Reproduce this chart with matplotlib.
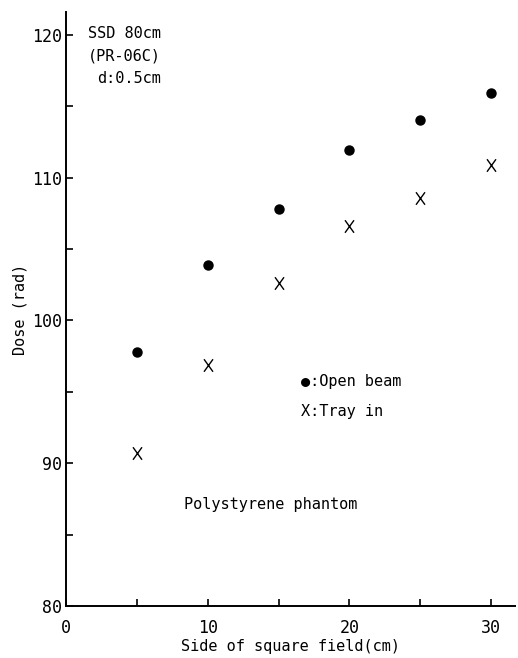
import matplotlib.pyplot as plt
from matplotlib.path import Path

# field size (cm) and measured dose (rad)
field = [5, 10, 15, 20, 25, 30]
open_beam = [97.8, 103.9, 107.8, 111.9, 114.0, 115.9]
tray_in = [90.7, 96.9, 102.6, 106.6, 108.6, 110.9]

x_ticks = [0, 10, 20, 30]
y_ticks = [80, 90, 100, 110, 120]

plt.rcParams['font.family'] = ['DejaVu Sans Mono', 'DejaVu Sans']

fig = plt.figure(figsize=(5.18, 6.58), dpi=100)
ax = fig.add_axes([0.127, 0.079, 0.868, 0.903])

# tall thin X like the typed glyph
xmark = Path([(-0.36, -0.5), (0.36, 0.5), (-0.36, 0.5), (0.36, -0.5)],
             [Path.MOVETO, Path.LINETO, Path.MOVETO, Path.LINETO])

ax.plot(field, open_beam, 'o', color='black', ms=6.5, ls='none')
ax.plot(field, tray_in, marker=xmark, color='black', ms=9, mew=1.0, ls='none')

ax.set_xlim(0, 31.7)
ax.set_ylim(80, 121.6)
ax.set_xticks(x_ticks)
ax.set_yticks(y_ticks)
ax.set_xticks([5, 15, 25], minor=True)
ax.set_yticks([85, 95, 105, 115], minor=True)
ax.tick_params(which='both', direction='in', length=5, width=1.2, labelsize=12)
ax.tick_params(axis='x', pad=9)
ax.tick_params(axis='y', pad=3)

for s in ['top', 'right']:
    ax.spines[s].set_visible(False)
for s in ['left', 'bottom']:
    ax.spines[s].set_linewidth(1.4)

ax.set_xlabel('Side of square field(cm)', fontsize=11, labelpad=2)
ax.set_ylabel('Dose (rad)', fontsize=11, labelpad=3)

ax.text(1.55, 120.1, 'SSD 80cm', fontsize=11, va='center')
ax.text(1.55, 118.5, '(PR-06C)', fontsize=11, va='center')
ax.text(2.2, 116.9, 'd:0.5cm', fontsize=11, va='center')

ax.text(16.6, 95.7, '●:Open beam', fontsize=11, va='center')
ax.text(16.6, 93.6, 'X:Tray in', fontsize=11, va='center')
ax.text(8.3, 87.1, 'Polystyrene phantom', fontsize=11, va='center')

fig.savefig('out.png', dpi=100)
